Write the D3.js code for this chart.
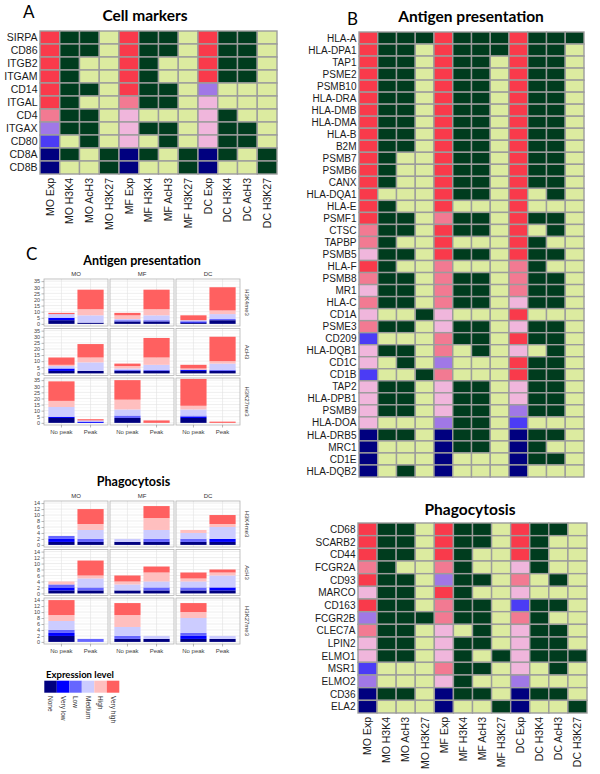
<!DOCTYPE html>
<html><head><meta charset="utf-8">
<script src="https://cdn.jsdelivr.net/npm/d3@7/dist/d3.min.js"></script>
<style>body{margin:0;background:#fff}svg{display:block}</style>
</head><body>
<script>
// ---------- DATA ----------
const columns = ["MO Exp","MO H3K4","MO AcH3","MO H3K27","MF Exp","MF H3K4","MF AcH3","MF H3K27","DC Exp","DC H3K4","DC AcH3","DC H3K27"];
// Expression codes: 0 None, 1 Very low, 2 Low, 3 Medium, 4 High, 5 Very high ; mark codes: 0 no peak, 1 peak
const expLevels = ["None","Very low","Low","Medium","High","Very high"];

const cellGenes = ["SIRPA","CD86","ITGB2","ITGAM","CD14","ITGAL","CD4","ITGAX","CD80","CD8A","CD8B"];
const cellMatrix = [
  [5,1,1,0, 5,1,1,0, 5,1,1,0],
  [5,1,1,0, 5,1,1,0, 5,1,1,0],
  [5,1,0,0, 5,1,0,0, 5,1,1,0],
  [5,1,0,0, 5,1,0,0, 5,1,1,0],
  [5,1,1,0, 5,1,1,0, 2,0,0,0],
  [5,1,0,0, 4,1,1,0, 3,0,0,0],
  [4,1,1,0, 3,0,0,0, 3,1,0,0],
  [2,1,1,0, 3,1,1,0, 3,1,1,0],
  [1,0,1,0, 3,0,1,0, 3,1,1,0],
  [0,1,0,1, 0,1,0,1, 0,1,0,1],
  [0,0,0,1, 0,0,0,1, 0,0,0,1]
];

const antigenGenes = ["HLA-A","HLA-DPA1","TAP1","PSME2","PSMB10","HLA-DRA","HLA-DMB","HLA-DMA","HLA-B","B2M","PSMB7","PSMB6","CANX","HLA-DQA1","HLA-E","PSMF1","CTSC","TAPBP","PSMB5","HLA-F","PSMB8","MR1","HLA-C","CD1A","PSME3","CD209","HLA-DQB1","CD1C","CD1B","TAP2","HLA-DPB1","PSMB9","HLA-DOA","HLA-DRB5","MRC1","CD1E","HLA-DQB2"];
const antigenMatrix = [
  [5,1,1,1, 5,1,1,1, 5,1,1,1],
  [5,1,1,0, 5,1,1,1, 5,1,1,0],
  [5,1,1,0, 5,1,1,0, 5,1,1,0],
  [5,1,1,0, 5,1,1,0, 5,1,1,0],
  [5,1,1,0, 5,1,1,0, 5,1,1,0],
  [5,1,1,0, 5,1,1,0, 5,1,1,0],
  [5,1,1,0, 5,1,1,0, 5,1,1,0],
  [5,1,1,0, 5,1,1,0, 5,1,1,0],
  [5,1,1,0, 5,1,1,0, 5,1,1,0],
  [5,1,1,0, 5,1,1,0, 5,1,1,0],
  [5,1,0,0, 5,1,1,0, 5,1,1,0],
  [5,1,0,0, 5,1,1,0, 5,1,1,0],
  [5,1,0,0, 5,1,1,0, 5,1,1,0],
  [5,0,0,0, 5,1,1,0, 5,0,1,0],
  [5,1,0,0, 5,0,0,0, 5,0,0,0],
  [5,1,1,0, 4,1,1,0, 5,1,1,0],
  [4,1,1,0, 5,1,1,0, 5,0,1,0],
  [4,1,0,0, 5,0,0,0, 5,1,0,0],
  [3,1,1,0, 5,1,1,0, 5,1,1,0],
  [5,1,0,0, 4,0,0,0, 4,1,0,0],
  [4,1,1,0, 4,1,1,0, 4,1,1,0],
  [3,1,1,0, 4,1,1,0, 4,1,1,0],
  [4,1,1,0, 4,1,1,0, 3,1,1,0],
  [3,0,0,1, 3,0,0,0, 5,0,0,0],
  [4,1,1,0, 3,1,1,0, 3,1,1,0],
  [1,0,0,0, 4,1,1,0, 5,1,1,0],
  [3,1,1,0, 4,0,1,0, 3,0,1,0],
  [3,0,1,0, 2,0,0,0, 5,1,1,0],
  [1,0,0,1, 4,0,0,0, 5,1,1,0],
  [3,1,1,0, 3,1,1,0, 3,1,1,0],
  [3,1,1,0, 3,1,1,0, 3,1,1,0],
  [3,1,1,0, 3,1,1,0, 2,1,1,0],
  [3,0,0,0, 2,1,1,0, 1,0,0,0],
  [0,1,1,0, 0,1,1,0, 0,1,1,0],
  [0,0,0,0, 0,1,1,0, 0,1,0,0],
  [0,0,0,0, 0,0,0,0, 0,1,1,0],
  [0,0,1,0, 0,0,0,0, 0,0,0,0]
];

const phagoGenes = ["CD68","SCARB2","CD44","FCGR2A","CD93","MARCO","CD163","FCGR2B","CLEC7A","LPIN2","ELMO1","MSR1","ELMO2","CD36","ELA2"];
const phagoMatrix = [
  [5,1,1,0, 5,1,1,0, 5,1,1,0],
  [5,1,1,0, 5,1,1,0, 5,1,0,0],
  [5,1,1,0, 5,1,0,0, 5,1,0,0],
  [4,1,0,0, 4,1,0,0, 3,1,0,0],
  [5,1,1,0, 2,1,1,0, 4,0,1,0],
  [3,1,1,0, 5,1,0,0, 3,0,0,0],
  [5,1,1,0, 4,1,1,0, 1,1,1,0],
  [2,1,1,1, 4,1,1,0, 4,1,0,0],
  [4,1,1,0, 3,0,1,0, 3,1,1,0],
  [3,1,1,0, 3,1,1,0, 3,1,1,0],
  [3,1,1,0, 3,1,0,1, 3,1,1,1],
  [1,0,0,0, 4,1,1,0, 3,0,1,0],
  [2,0,0,0, 3,1,0,0, 2,0,0,0],
  [0,1,1,0, 0,1,1,0, 0,1,1,0],
  [0,0,0,0, 0,0,0,1, 0,0,0,1]
];

// Panel C: gene counts per expression level [None, Very low, Low, Medium, High, Very high]
const cellTypes = ["MO","MF","DC"];
const marks = ["H3K4me3","AcH3","H3K27me3"];
const peakStates = ["No peak","Peak"];
// each: [cellType][peakState]
const antigenH3K4me3 = [
  [[3,2,0,3,0,1],[1,0,0,6,5,16]],
  [[2,0,1,1,3,2],[2,0,1,4,5,16]],
  [[1,1,0,1,0,4],[3,0,1,4,3,19]]
];
const antigenAcH3 = [
  [[2,2,0,2,1,6],[2,0,0,7,4,11]],
  [[2,0,1,1,2,2],[2,0,1,4,6,16]],
  [[2,1,0,0,1,3],[2,0,1,5,2,20]]
];
const antigenH3K27me3 = [
  [[4,1,0,8,5,16],[0,1,0,1,0,1]],
  [[4,0,2,5,8,16],[0,0,0,0,0,2]],
  [[4,1,1,5,3,22],[0,0,0,0,0,1]]
];
const phagoH3K4me3 = [
  [[1,1,1,0,0,0],[1,0,1,3,2,5]],
  [[1,0,0,1,0,0],[1,0,1,3,4,4]],
  [[1,0,1,2,1,0],[1,1,0,4,1,3]]
];
const phagoAcH3 = [
  [[1,1,1,0,1,0],[1,0,1,3,1,5]],
  [[1,0,0,2,1,2],[1,0,1,2,3,2]],
  [[1,0,1,2,1,2],[1,1,0,4,1,1]]
];
const phagoH3K27me3 = [
  [[2,1,1,3,2,5],[0,0,1,0,0,0]],
  [[1,0,1,3,4,4],[1,0,0,1,0,0]],
  [[1,1,1,5,2,3],[1,0,0,1,0,0]]
];
const antigenTicks = [0,5,10,15,20,25,30,35];
const phagoTicks = [0,2,4,6,8,10,12,14];

// ---------- STYLE ----------
const heatExpColors = ["#00007f","#4b3cf5","#a078e6","#f0b6dc","#f27a92","#f93a4b"];
const markColors = ["#dcebA0","#003c1e"];
const barColors = ["#00007f","#0000ff","#6666ff","#ccccff","#ffbfbf","#ff6060"];
const titleFont = "Lato, 'Open Sans', sans-serif";
const labelFont = "'Liberation Sans', Arial, sans-serif";

const svg = d3.select("body").append("svg").attr("width",600).attr("height",774);

function text(x,y,str,opts){
  const t = svg.append("text").attr("x",x).attr("y",y).text(str)
    .attr("font-family",opts.family||titleFont).attr("font-size",opts.size)
    .attr("font-weight",opts.weight||"normal").attr("fill",opts.fill||"#000")
    .attr("text-anchor",opts.anchor||"start");
  return t;
}

function heatmap(genes, matrix, x0, x1, y0, y1, rowFont, colLabels, colFont){
  const g = svg.append("g");
  const x = d3.scaleBand().domain(columns).range([x0,x1]);
  const y = d3.scaleBand().domain(genes).range([y0,y1]);
  genes.forEach((gene,i)=>{
    matrix[i].forEach((v,j)=>{
      const col = columns[j];
      const fill = (j%4===0) ? heatExpColors[v] : markColors[v];
      g.append("rect").attr("x",x(col)).attr("y",y(gene))
        .attr("width",x.bandwidth()).attr("height",y.bandwidth())
        .attr("fill",fill).attr("stroke","#9c9c9c").attr("stroke-width",1.4);
    });
  });
  g.selectAll("text.row").data(genes).join("text").attr("class","row")
    .attr("x",x0-2.5).attr("y",d=>y(d)+y.bandwidth()/2)
    .attr("dy","0.36em").attr("text-anchor","end")
    .attr("font-family",labelFont).attr("font-size",rowFont).attr("fill","#1a1a1a")
    .text(d=>d);
  if(colLabels){
    g.selectAll("text.col").data(columns).join("text").attr("class","col")
      .attr("transform",d=>`translate(${x(d)+x.bandwidth()/2},${y1+4}) rotate(-90)`)
      .attr("dy","0.36em").attr("text-anchor","end")
      .attr("font-family",labelFont).attr("font-size",colFont).attr("fill","#1a1a1a")
      .text(d=>d);
  }
}

// Panel A
text(23,18,"A",{size:17});
text(145,20.5,"Cell markers",{size:15.5,weight:"bold",anchor:"middle"});
heatmap(cellGenes, cellMatrix, 40, 277, 31, 174, 10.5, true, 10.5);

// Panel B
text(347,25,"B",{size:17});
text(471,22,"Antigen presentation",{size:15.5,weight:"bold",anchor:"middle"});
heatmap(antigenGenes, antigenMatrix, 359, 584, 32, 477, 10, false);
text(470,515,"Phagocytosis",{size:15.5,weight:"bold",anchor:"middle"});
heatmap(phagoGenes, phagoMatrix, 358, 587, 523, 713, 10, true, 10.5);

// Panel C
text(26,260,"C",{size:17});

function facetGrid(datasets, top, panelH, ticks, domain){
  const panelX = [44,110,176], panelW = 64, gapY = 2.5;
  const g = svg.append("g");
  datasets.forEach((ds, r)=>{
    const py = top + r*(panelH+gapY);
    const y = d3.scaleLinear().domain(domain).range([py+panelH, py]);
    const minor = d3.range(ticks.length-1).map(i=>(ticks[i]+ticks[i+1])/2);
    cellTypes.forEach((ct,c)=>{
      const px = panelX[c];
      const x = d3.scaleBand().domain(peakStates).range([px,px+panelW]).paddingInner(0.1).paddingOuter(0.15);
      const pg = g.append("g");
      pg.append("rect").attr("x",px).attr("y",py).attr("width",panelW).attr("height",panelH).attr("fill","#fff");
      pg.selectAll("line.mi").data(minor).join("line").attr("x1",px).attr("x2",px+panelW)
        .attr("y1",d=>y(d)).attr("y2",d=>y(d)).attr("stroke","#f3f3f3").attr("stroke-width",0.5);
      pg.selectAll("line.ma").data(ticks).join("line").attr("x1",px).attr("x2",px+panelW)
        .attr("y1",d=>y(d)).attr("y2",d=>y(d)).attr("stroke","#e3e3e3").attr("stroke-width",0.6);
      pg.selectAll("line.v").data(peakStates).join("line")
        .attr("x1",d=>x(d)+x.bandwidth()/2).attr("x2",d=>x(d)+x.bandwidth()/2)
        .attr("y1",py).attr("y2",py+panelH).attr("stroke","#e3e3e3").attr("stroke-width",0.6);
      const rows = peakStates.map((p,k)=>{
        const o = {state:p};
        expLevels.forEach((lv,li)=>o[lv]=ds[c][k][li]);
        return o;
      });
      const stacked = d3.stack().keys(expLevels)(rows);
      stacked.forEach((layer,li)=>{
        pg.selectAll(null).data(layer).join("rect")
          .attr("x",d=>x(d.data.state)).attr("width",x.bandwidth())
          .attr("y",d=>y(d[1])).attr("height",d=>Math.max(0,y(d[0])-y(d[1])))
          .attr("fill",barColors[li]);
      });
      pg.append("rect").attr("x",px).attr("y",py).attr("width",panelW).attr("height",panelH)
        .attr("fill","none").attr("stroke","#b3b3b3").attr("stroke-width",0.8);
      if(r===0){
        text(px+panelW/2, py-3, ct, {family:labelFont,size:6,fill:"#333",anchor:"middle"});
      }
      if(r===datasets.length-1){
        peakStates.forEach(p=>{
          const cx = x(p)+x.bandwidth()/2;
          pg.append("line").attr("x1",cx).attr("x2",cx).attr("y1",py+panelH).attr("y2",py+panelH+2.5)
            .attr("stroke","#888").attr("stroke-width",0.6);
          text(cx, py+panelH+8.5, p, {family:labelFont,size:6,fill:"#444",anchor:"middle"});
        });
      }
    });
    // y axis
    const ax = g.append("g").attr("transform",`translate(${panelX[0]},0)`);
    ax.call(d3.axisLeft(y).tickValues(ticks).tickSize(2.5).tickPadding(1.5));
    ax.select(".domain").remove();
    ax.selectAll(".tick line").attr("stroke","#888").attr("stroke-width",0.6);
    ax.selectAll(".tick text").attr("font-family",labelFont).attr("font-size",5.5).attr("fill","#444");
    // right strip label
    const lx = panelX[2]+panelW+4.5, ly = py+panelH/2;
    svg.append("text").attr("transform",`translate(${lx},${ly}) rotate(90)`)
      .attr("text-anchor","middle").attr("font-family",labelFont).attr("font-size",6)
      .attr("fill","#333").text(marks[r]);
  });
}

text(142,265,"Antigen presentation",{size:12.5,weight:"bold",anchor:"middle"});
facetGrid([antigenH3K4me3, antigenAcH3, antigenH3K27me3], 279, 47, antigenTicks, [-1.75,36.75]);

text(133.5,486,"Phagocytosis",{size:12.5,weight:"bold",anchor:"middle"});
facetGrid([phagoH3K4me3, phagoAcH3, phagoH3K27me3], 501, 46, phagoTicks, [-0.7,14.7]);

// Legend
text(80,678,"Expression level",{size:9.5,weight:"bold",anchor:"middle"});
const lx = d3.scaleBand().domain(expLevels).range([44.3,119.3]);
svg.selectAll("rect.leg").data(expLevels).join("rect").attr("class","leg")
  .attr("x",d=>lx(d)).attr("y",680.7).attr("width",lx.bandwidth()).attr("height",12)
  .attr("fill",(d,i)=>barColors[i]);
svg.selectAll("text.leg").data(expLevels).join("text").attr("class","leg")
  .attr("transform",d=>`translate(${lx(d)+lx.bandwidth()/2},${696}) rotate(90)`)
  .attr("dy","0.36em").attr("font-family",labelFont).attr("font-size",6.5).attr("fill","#333")
  .text(d=>d);
</script>
</body></html>
